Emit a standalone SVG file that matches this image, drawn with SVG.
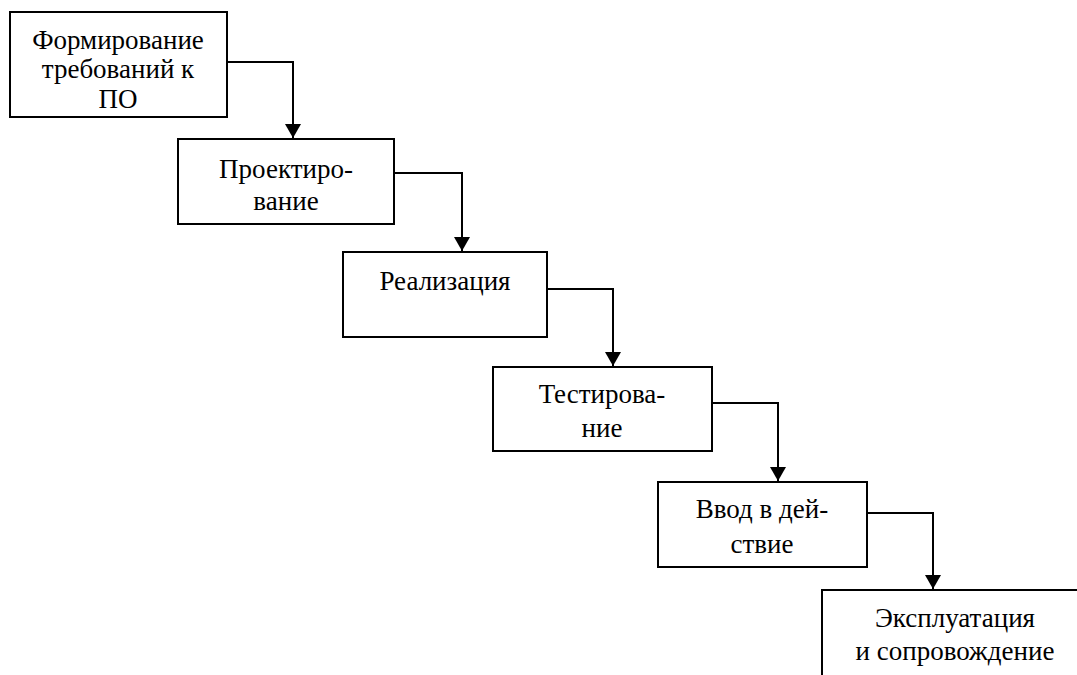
<svg xmlns="http://www.w3.org/2000/svg" width="1077" height="675" viewBox="0 0 1077 675">
  <defs>
    <!-- solid arrowhead, drawn along +x so orient="auto" follows the line -->
    <marker id="arrow" viewBox="0 0 14 16" refX="14" refY="8" markerWidth="14" markerHeight="16" markerUnits="userSpaceOnUse" orient="auto">
      <path d="M0,0 L14,8 L0,16 Z" fill="#000"/>
    </marker>
  </defs>
  <style>
    .box { fill: #fff; stroke: #000; stroke-width: 2; }
    .lbl { font-family: "Liberation Serif", "Times New Roman", serif; font-size: 27px; fill: #000; text-anchor: middle; }
    .link { fill: none; stroke: #000; stroke-width: 2; }
  </style>
  <rect width="1077" height="675" fill="#fff"/>

  <g id="connectors">
    <path class="link" d="M227,62 H293 V138" marker-end="url(#arrow)"/>
    <path class="link" d="M394,173 H462 V251" marker-end="url(#arrow)"/>
    <path class="link" d="M547,289 H613 V366" marker-end="url(#arrow)"/>
    <path class="link" d="M712,403 H778 V481" marker-end="url(#arrow)"/>
    <path class="link" d="M867,513 H933 V589" marker-end="url(#arrow)"/>
  </g>

  <g id="node-requirements">
    <rect class="box" x="10" y="12" width="217" height="105"/>
    <text class="lbl" x="118" y="49">Формирование</text>
    <text class="lbl" x="118" y="78">требований к</text>
    <text class="lbl" x="118" y="108">ПО</text>
  </g>

  <g id="node-design">
    <rect class="box" x="178" y="139" width="216" height="85"/>
    <text class="lbl" x="286" y="178">Проектиро-</text>
    <text class="lbl" x="286" y="210">вание</text>
  </g>

  <g id="node-implementation">
    <rect class="box" x="343" y="252" width="204" height="85"/>
    <text class="lbl" x="445" y="290">Реализация</text>
  </g>

  <g id="node-testing">
    <rect class="box" x="493" y="367" width="219" height="84"/>
    <text class="lbl" x="602" y="403">Тестирова-</text>
    <text class="lbl" x="602" y="437">ние</text>
  </g>

  <g id="node-deployment">
    <rect class="box" x="658" y="482" width="209" height="85"/>
    <text class="lbl" x="762" y="518">Ввод в дей-</text>
    <text class="lbl" x="762" y="553">ствие</text>
  </g>

  <g id="node-maintenance">
    <rect class="box" x="822" y="590" width="266" height="100"/>
    <text class="lbl" x="955" y="627">Эксплуатация</text>
    <text class="lbl" x="955" y="660">и сопровождение</text>
  </g>
</svg>
